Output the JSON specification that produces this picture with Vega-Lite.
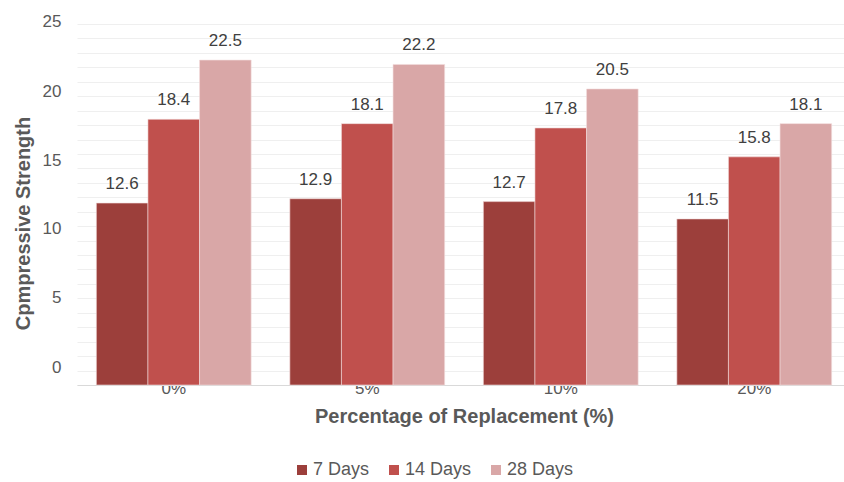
{
  "$schema": "https://vega.github.io/schema/vega-lite/v6.json",
  "width": 766,
  "height": 361,
  "autosize": "none",
  "padding": {"left": 77, "top": 24, "right": 1, "bottom": 97},
  "background": "white",
  "config": {
    "view": {"stroke": null},
    "font": "Liberation Sans"
  },
  "data": {
    "values": [
      {"rep": "0%", "age": "7 Days", "strength": 12.6},
      {"rep": "0%", "age": "14 Days", "strength": 18.4},
      {"rep": "0%", "age": "28 Days", "strength": 22.5},
      {"rep": "5%", "age": "7 Days", "strength": 12.9},
      {"rep": "5%", "age": "14 Days", "strength": 18.1},
      {"rep": "5%", "age": "28 Days", "strength": 22.2},
      {"rep": "10%", "age": "7 Days", "strength": 12.7},
      {"rep": "10%", "age": "14 Days", "strength": 17.8},
      {"rep": "10%", "age": "28 Days", "strength": 20.5},
      {"rep": "20%", "age": "7 Days", "strength": 11.5},
      {"rep": "20%", "age": "14 Days", "strength": 15.8},
      {"rep": "20%", "age": "28 Days", "strength": 18.1}
    ]
  },
  "encoding": {
    "x": {
      "field": "rep", "type": "nominal", "sort": ["0%", "5%", "10%", "20%"],
      "scale": {"paddingInner": 0.2, "paddingOuter": 0.1, "range": [0, 774]},
      "axis": {
        "title": "Percentage of Replacement (%)",
        "titleFontSize": 20, "titleFontWeight": "bold", "titleColor": "#595959",
        "titlePadding": 10,
        "labelAngle": 0, "labelFontSize": 17, "labelColor": "#595959", "labelPadding": -5,
        "domainColor": "#D9D9D9", "ticks": false, "zindex": 0
      }
    },
    "xOffset": {"field": "age", "type": "nominal", "sort": ["7 Days", "14 Days", "28 Days"]},
    "y": {
      "field": "strength", "type": "quantitative",
      "scale": {"domain": [0, 25], "nice": false},
      "axis": {
        "title": "Cpmpressive Strength",
        "titleFontSize": 20, "titleFontWeight": "bold", "titleColor": "#595959",
        "titleX": -44, "titleY": 199,
        "values": [0,1,2,3,4,5,6,7,8,9,10,11,12,13,14,15,16,17,18,19,20,21,22,23,24,25],
        "labelExpr": "datum.value % 5 == 0 ? datum.label : ''",
        "labelFontSize": 17, "labelColor": "#595959", "labelPadding": 16,
        "labelOffset": {
          "condition": [
            {"test": "datum.value == 0", "value": -18},
            {"test": "datum.value == 5", "value": -15},
            {"test": "datum.value == 10", "value": -12},
            {"test": "datum.value == 15", "value": -8},
            {"test": "datum.value == 20", "value": -5}
          ],
          "value": -3
        },
        "domain": false, "ticks": false,
        "gridColor": "#EFEFEF", "gridWidth": 1
      }
    }
  },
  "layer": [
    {
      "mark": {"type": "bar", "stroke": "#F2DCDB", "strokeWidth": 0.6},
      "encoding": {
        "color": {
          "field": "age", "type": "nominal", "sort": ["7 Days", "14 Days", "28 Days"],
          "scale": {"domain": ["7 Days", "14 Days", "28 Days"], "range": ["#9C3F3B", "#C0504D", "#D9A7A7"]},
          "legend": {
            "title": null, "orient": "none", "direction": "horizontal",
            "legendX": 216, "legendY": 437,
            "symbolType": "square", "symbolSize": 100, "symbolStrokeWidth": 0,
            "labelFontSize": 18, "labelColor": "#595959", "labelOffset": 2,
            "columnPadding": 15
          }
        }
      }
    },
    {
      "mark": {"type": "text", "dy": -19, "fontSize": 17, "color": "#404040"},
      "encoding": {
        "text": {"field": "strength", "type": "quantitative", "format": ".1f"}
      }
    }
  ]
}
